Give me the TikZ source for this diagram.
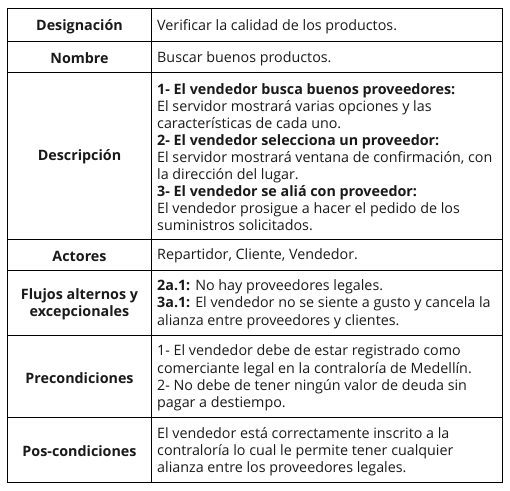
\documentclass[tikz,border=0pt]{standalone}
\usepackage{fontspec}
\setmainfont{Open Sans}
\begin{document}
\begin{tikzpicture}[x=1pt,y=-1pt,
  cellfont/.style={inner sep=0pt, text=black!90},
  lab/.style={cellfont, align=center, font=\fontsize{14.3}{17.1}\selectfont\bfseries},
  txt/.style={cellfont, anchor=west, align=left, font=\fontsize{14.3}{17.1}\selectfont},
  grid/.style={line width=1pt, black}]
\useasboundingbox (0,0) rectangle (510,490);
% grid
\draw[grid] (7.3,8.3) rectangle (502.3,482.3);
\foreach \yy in {41.7,72.3,239.3,270.3,335.3,417.7}
  \draw[grid] (7.3,\yy) -- (502.3,\yy);
\draw[grid] (151.7,8.3) -- (151.7,482.3);
% labels
\node[lab] (l1) at (79.5,26.3) {Designación};
\node[lab] (l2) at (79.5,58.3) {Nombre};
\node[lab] (l3) at (79.5,157.2) {Descripción};
\node[lab] (l4) at (79.5,256.2) {Actores};
\node[lab] (l5) at (79.5,304.2) {Flujos alternos y\\excepcionales};
\node[lab] (l6) at (79.5,377.9) {Precondiciones};
\node[lab] (l7) at (79.5,451.4) {Pos-condiciones};
% contents
\node[txt] (c1) at (157,26.3) {Verificar la calidad de los productos.};
\node[txt] (c2) at (157,58.3) {Buscar buenos productos.};
\node[txt] (c3) at (157,157.2) {\textbf{1- El vendedor busca buenos proveedores:}\\
El servidor mostrará varias opciones y las\\
características de cada uno.\\
\textbf{2- El vendedor selecciona un proveedor:}\\
El servidor mostrará ventana de confirmación, con\\
la dirección del lugar.\\
\textbf{3- El vendedor se aliá con proveedor:}\\
El vendedor prosigue a hacer el pedido de los\\
suministros solicitados.};
\node[txt] (c4) at (157,256.2) {Repartidor, Cliente, Vendedor.};
\node[txt] (c5) at (157,304.2) {\textbf{2a.1:} No hay proveedores legales.\\
\textbf{3a.1:} El vendedor no se siente a gusto y cancela la\\
alianza entre proveedores y clientes.};
\node[txt] (c6) at (157,377.9) {1- El vendedor debe de estar registrado como\\
comerciante legal en la contraloría de Medellín.\\
2- No debe de tener ningún valor de deuda sin\\
pagar a destiempo.};
\node[txt] (c7) at (157,451.4) {El vendedor está correctamente inscrito a la\\
contraloría lo cual le permite tener cualquier\\
alianza entre los proveedores legales.};
\end{tikzpicture}
\end{document}
